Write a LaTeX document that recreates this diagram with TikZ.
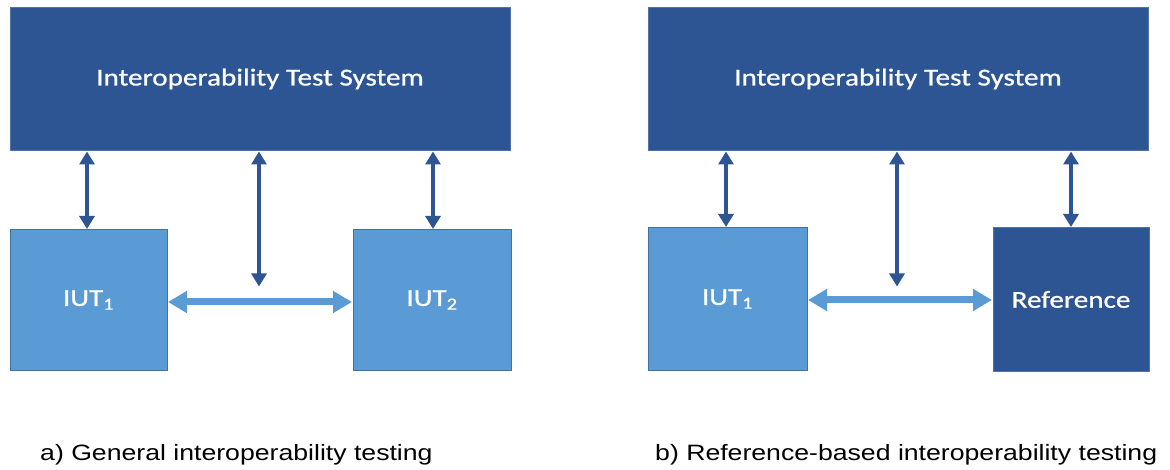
\documentclass[tikz,border=0pt]{standalone}
\usepackage{fontspec}
\usetikzlibrary{arrows.meta}
\newfontfamily\boxfont[FakeStretch=1.2,FakeBold=0.8]{Carlito}
\newfontfamily\capfont[FakeStretch=1.2]{Liberation Sans}
\definecolor{darkblue}{HTML}{2E5593}
\definecolor{darkedge}{HTML}{5273A6}
\definecolor{lightblue}{HTML}{5B9BD5}
\definecolor{lightedge}{HTML}{41719C}
\tikzset{
  sysbox/.style={draw=darkedge, fill=darkblue, line width=1pt, text=white,
    font=\boxfont\fontsize{24.3}{29}\selectfont, inner sep=0pt},
  iutbox/.style={draw=lightedge, fill=lightblue, line width=1pt, text=white,
    font=\boxfont\fontsize{24.3}{29}\selectfont, inner sep=0pt},
  refbox/.style={sysbox},
  ctrl/.style={draw=darkblue, line width=4.5pt,
    {Triangle[width=15pt,length=13pt]}-{Triangle[width=15pt,length=13pt]}, shorten <=0.5pt, shorten >=0.5pt},
  link/.style={draw=lightblue, line width=7pt,
    {Triangle[width=21pt,length=19pt]}-{Triangle[width=21pt,length=19pt]}, shorten <=0.5pt, shorten >=0.5pt},
  caption/.style={font=\capfont\fontsize{22.2}{26}\selectfont, anchor=base west, inner sep=0pt}
}
\begin{document}
\begin{tikzpicture}[x=1pt, y=-1pt]
  \useasboundingbox (0,0) rectangle (1170,470);

  % ---- a) general interoperability testing
  \node[sysbox, minimum width=500pt, minimum height=143pt] (tisA) at (260,79) {Interoperability Test System};
  \node[iutbox, minimum width=157pt, minimum height=140pt] (iutA1) at (88.5,300) {IUT\textsubscript{1}};
  \node[iutbox, minimum width=158pt, minimum height=140pt] (iutA2) at (432,300) {IUT\textsubscript{2}};
  \coordinate (ax1) at (87,0);
  \coordinate (ax2) at (259,0);
  \coordinate (ax3) at (433,0);
  \coordinate (amid) at (259,287);
  \coordinate (alink) at (0,302);
  \draw[ctrl] (tisA.south -| ax1) -- (iutA1.north -| ax1);
  \draw[ctrl] (tisA.south -| ax2) -- (amid);
  \draw[ctrl] (tisA.south -| ax3) -- (iutA2.north -| ax3);
  \draw[link] (iutA1.east |- alink) -- (iutA2.west |- alink);
  \node[caption] (capA) at (40,460) {a) General interoperability testing};

  % ---- b) reference-based interoperability testing
  \node[sysbox, minimum width=500pt, minimum height=143pt] (tisB) at (898,79) {Interoperability Test System};
  \node[iutbox, minimum width=159pt, minimum height=142pt] (iutB1) at (727.5,299) {IUT\textsubscript{1}};
  \node[refbox, minimum width=156pt, minimum height=143pt] (refB) at (1071,299.5) {Reference};
  \coordinate (bx1) at (726,0);
  \coordinate (bx2) at (897,0);
  \coordinate (bx3) at (1071,0);
  \coordinate (bmid) at (897,287);
  \coordinate (blink) at (0,300);
  \draw[ctrl] (tisB.south -| bx1) -- (iutB1.north -| bx1);
  \draw[ctrl] (tisB.south -| bx2) -- (bmid);
  \draw[ctrl] (tisB.south -| bx3) -- (refB.north -| bx3);
  \draw[link] (iutB1.east |- blink) -- (refB.west |- blink);
  \node[caption] (capB) at (655,460) {b) Reference-based interoperability testing};
\end{tikzpicture}
\end{document}
